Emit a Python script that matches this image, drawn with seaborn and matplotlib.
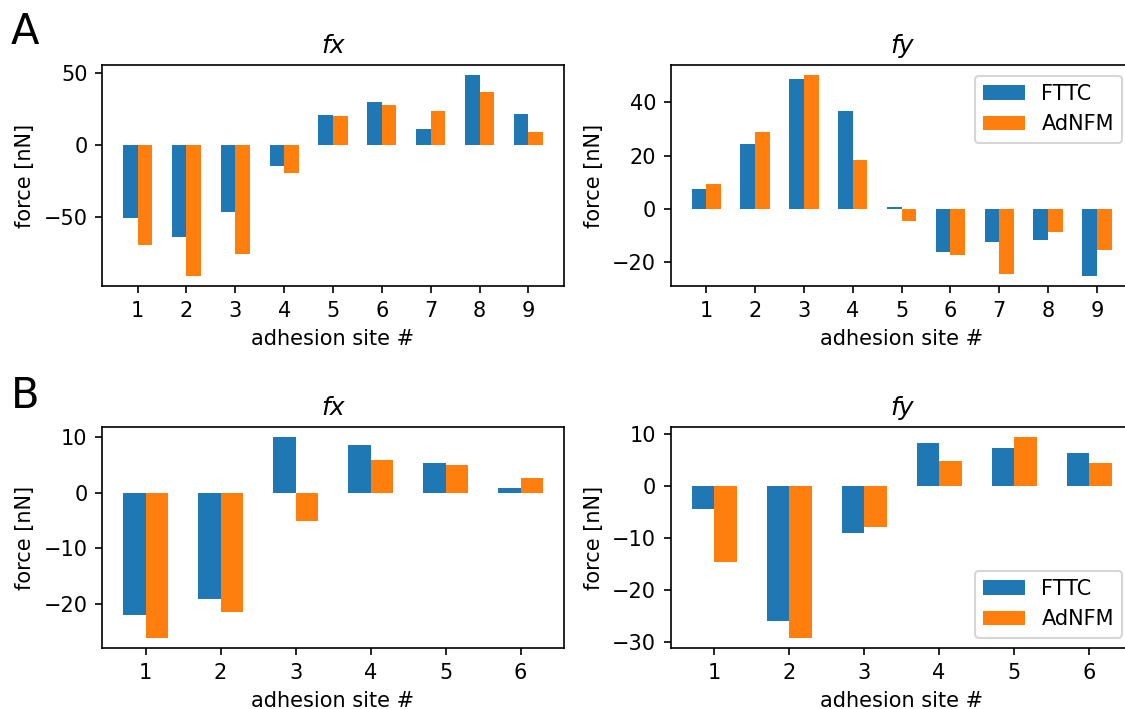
import numpy as np
import pandas as pd
import matplotlib
matplotlib.use("Agg")
import matplotlib.pyplot as plt
import seaborn as sns

# ---- data ----
methods = ["FTTC", "AdNFM"]

sites_A = [1, 2, 3, 4, 5, 6, 7, 8, 9]
A_fx_FTTC = [-50.5, -63.9, -46.4, -14.2, 21.2, 30.3, 11.4, 48.5, 21.9]
A_fx_AdNFM = [-69.5, -91.1, -75.8, -19.1, 20.5, 28.2, 24.0, 36.6, 9.3]
A_fy_FTTC = [7.4, 24.3, 48.6, 36.6, 0.6, -16.2, -12.5, -11.7, -25.2]
A_fy_AdNFM = [9.2, 28.7, 50.1, 18.2, -4.6, -17.4, -24.5, -8.7, -15.4]

sites_B = [1, 2, 3, 4, 5, 6]
B_fx_FTTC = [-21.9, -19.0, 10.0, 8.7, 5.3, 0.8]
B_fx_AdNFM = [-26.1, -21.4, -5.1, 6.0, 5.0, 2.6]
B_fy_FTTC = [-4.4, -26.0, -9.0, 8.4, 7.3, 6.3]
B_fy_AdNFM = [-14.7, -29.3, -7.8, 4.8, 9.4, 4.4]

colors = ["#1f77b4", "#ff7f0e"]


def make_df(sites, a, b):
    return pd.DataFrame({
        "site": [str(s) for s in sites] * 2,
        "method": [methods[0]] * len(sites) + [methods[1]] * len(sites),
        "force": list(a) + list(b),
    })


fig = plt.figure(figsize=(7.5, 709 / 150), dpi=150)

W = 462 / 1125
H_top = (286.3 - 65.3) / 709
H_bot = (648 - 427.3) / 709
left1 = 102 / 1125
left2 = 670.6 / 1125
bot1 = 1 - 286.3 / 709
bot2 = 1 - 648 / 709

panels = [
    ([left1, bot1, W, H_top], sites_A, A_fx_FTTC, A_fx_AdNFM, "fx", None),
    ([left2, bot1, W, H_top], sites_A, A_fy_FTTC, A_fy_AdNFM, "fy", "upper right"),
    ([left1, bot2, W, H_bot], sites_B, B_fx_FTTC, B_fx_AdNFM, "fx", None),
    ([left2, bot2, W, H_bot], sites_B, B_fy_FTTC, B_fy_AdNFM, "fy", "lower right"),
]

for rect, sites, a, b, title, legloc in panels:
    ax = fig.add_axes(rect)
    df = make_df(sites, a, b)
    sns.barplot(data=df, x="site", y="force", hue="method", hue_order=methods,
                palette=colors, saturation=1, width=0.6, errorbar=None,
                linewidth=0, ax=ax, legend=legloc is not None)
    n = len(sites)
    span = (n - 1) + 0.6
    ax.set_xlim(-0.3 - 0.05 * span, n - 1 + 0.3 + 0.05 * span)
    ax.set_title(title, fontstyle="italic", fontsize=12)
    ax.set_xlabel("adhesion site #", fontsize=10)
    ax.set_ylabel("force [nN]", fontsize=10)
    ax.tick_params(labelsize=10)
    if legloc is not None:
        sns.move_legend(ax, legloc, title=None, fontsize=10)

fig.text(11 / 1125, 1 - 44 / 709, "A", fontsize=20, va="baseline", ha="left")
fig.text(11 / 1125, 1 - 408 / 709, "B", fontsize=20, va="baseline", ha="left")

fig.savefig("out.png", dpi=150)
